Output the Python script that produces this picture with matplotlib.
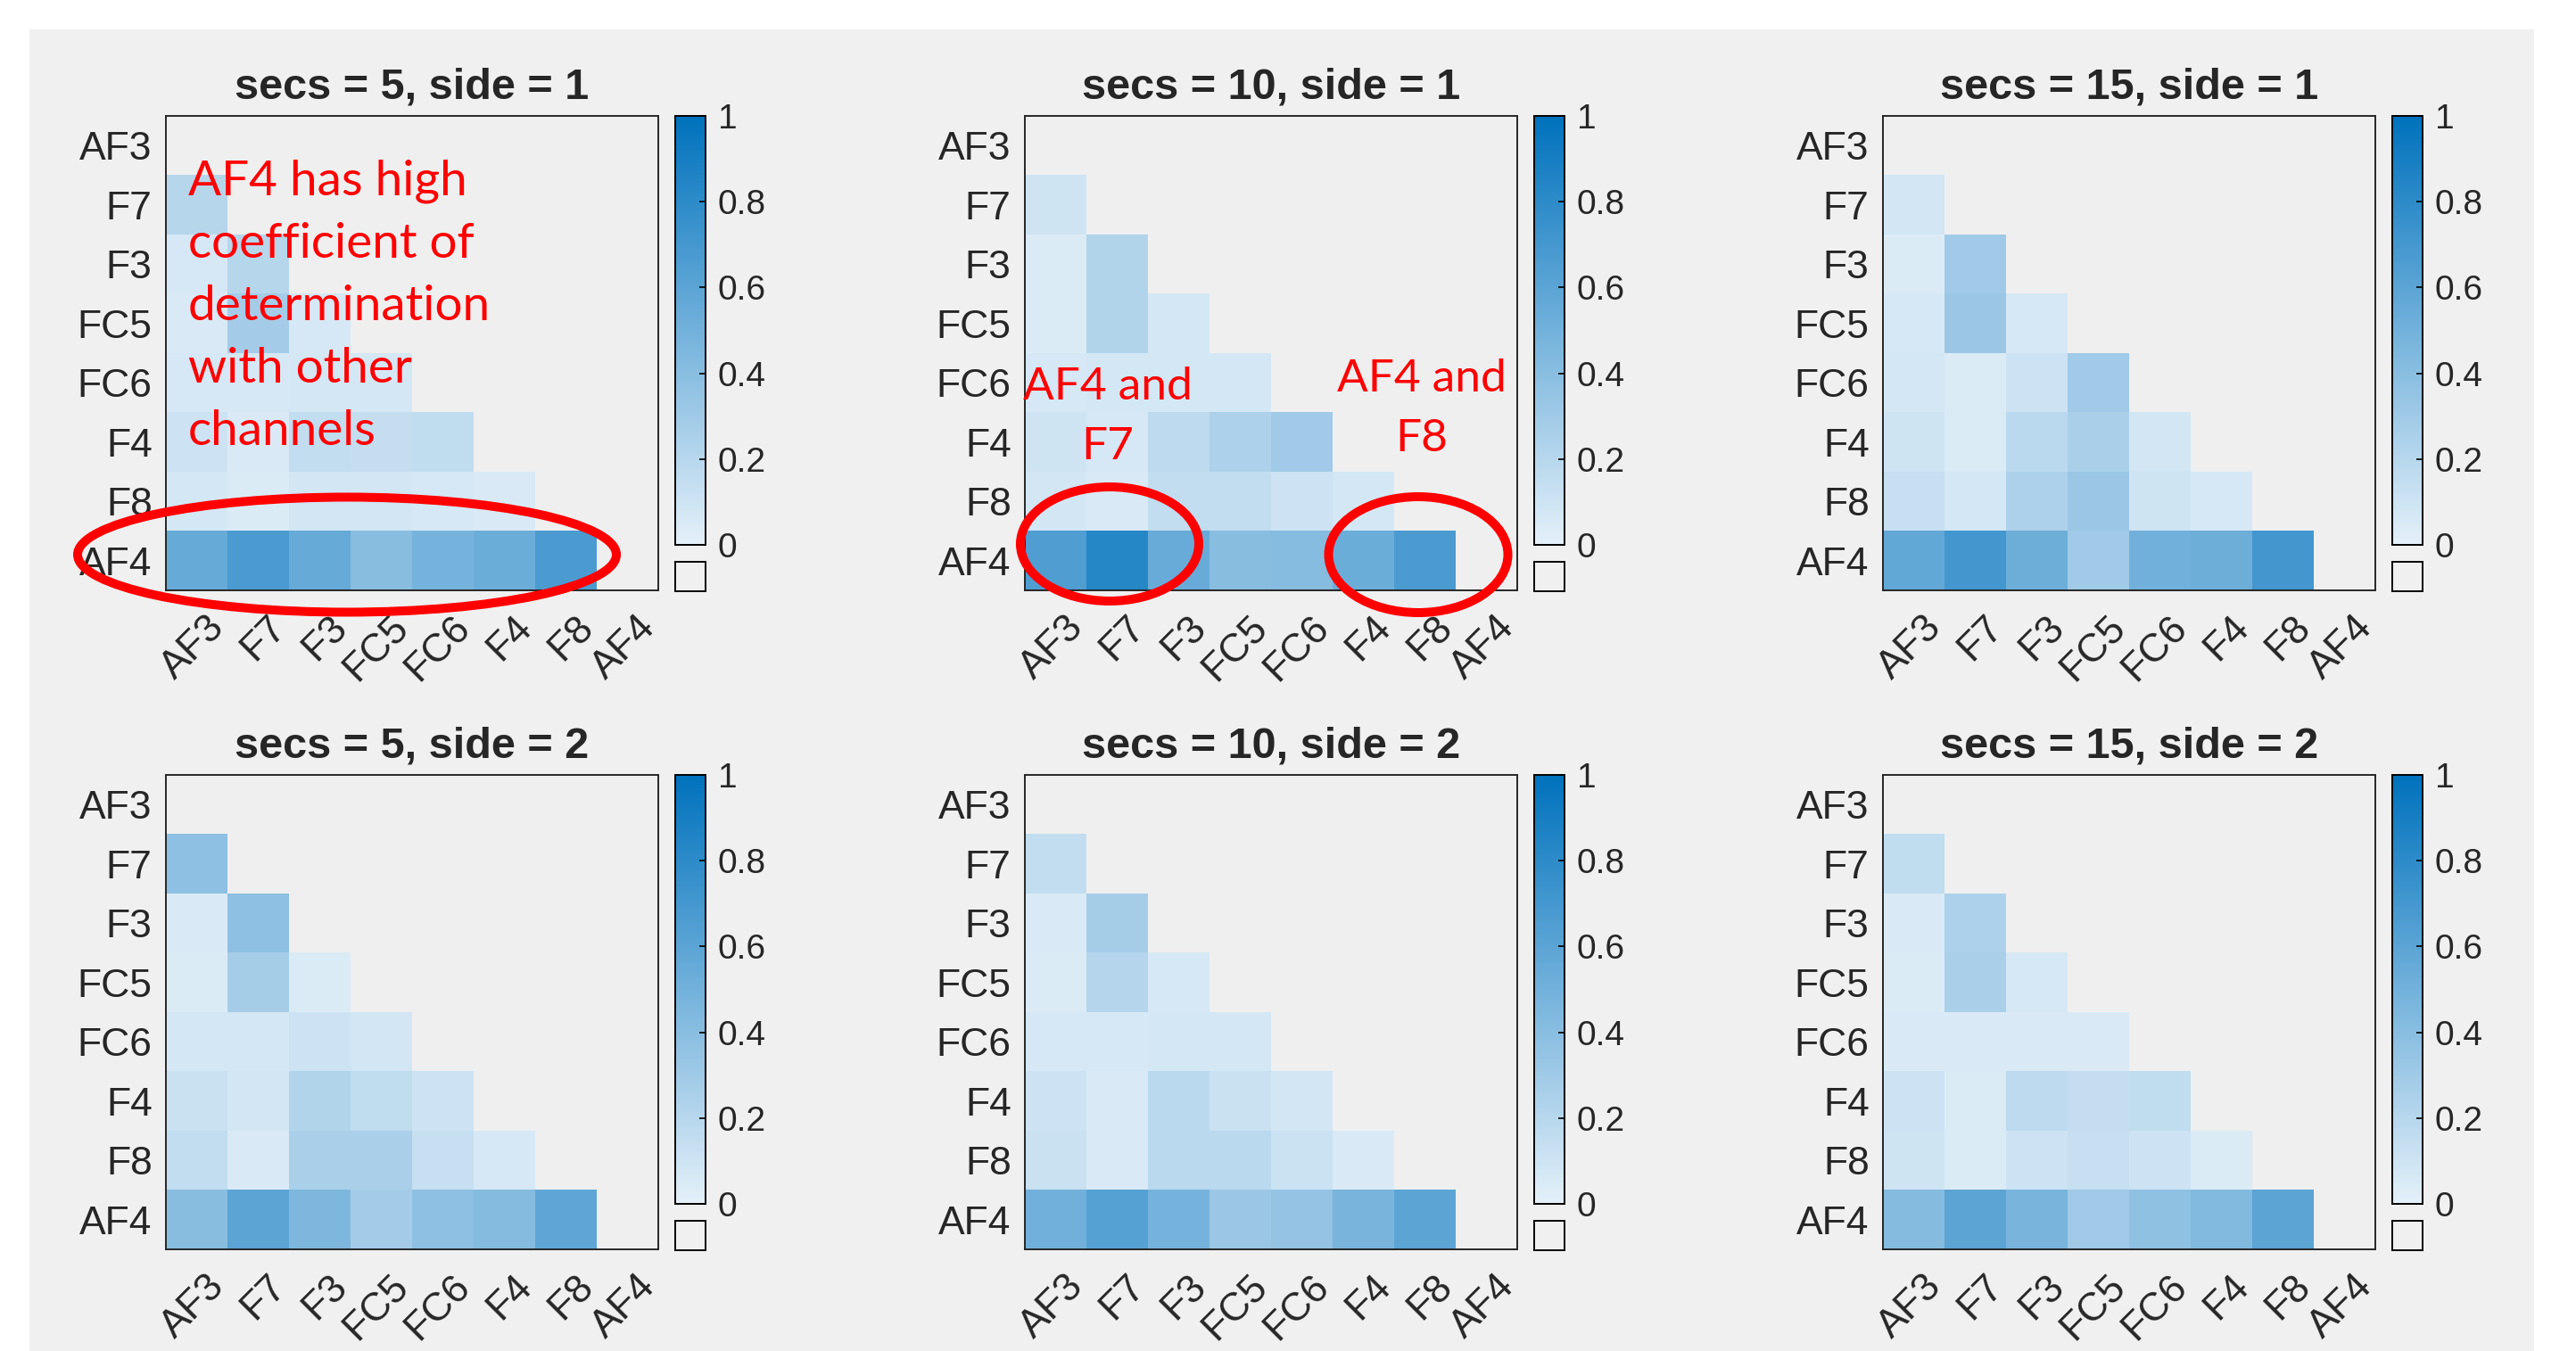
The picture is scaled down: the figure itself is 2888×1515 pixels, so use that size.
import numpy as np
import matplotlib
matplotlib.use('Agg')
import matplotlib.pyplot as plt
from matplotlib.colors import LinearSegmentedColormap
from matplotlib.patches import Ellipse, Rectangle
from matplotlib.transforms import ScaledTranslation

plt.rcParams['font.family'] = ['Liberation Sans', 'DejaVu Sans']

channels = ['AF3', 'F7', 'F3', 'FC5', 'FC6', 'F4', 'F8', 'AF4']
secs_list = [5, 10, 15]
sides = [1, 2]

# lower triangle, rows F7..AF4 (row i holds columns 0..i-1)
r2_5_1 = [[0.20],
          [0.06, 0.20],
          [0.05, 0.28, 0.06],
          [0.06, 0.06, 0.07, 0.07],
          [0.10, 0.05, 0.15, 0.14, 0.16],
          [0.07, 0.04, 0.08, 0.08, 0.06, 0.05],
          [0.55, 0.67, 0.55, 0.40, 0.48, 0.53, 0.67]]
r2_10_1 = [[0.09],
           [0.04, 0.22],
           [0.04, 0.22, 0.07],
           [0.06, 0.07, 0.07, 0.07],
           [0.09, 0.06, 0.17, 0.24, 0.30],
           [0.08, 0.05, 0.15, 0.15, 0.10, 0.07],
           [0.65, 0.83, 0.54, 0.40, 0.41, 0.53, 0.67]]
r2_15_1 = [[0.08],
           [0.04, 0.30],
           [0.06, 0.32, 0.06],
           [0.07, 0.04, 0.10, 0.30],
           [0.09, 0.04, 0.18, 0.25, 0.08],
           [0.13, 0.07, 0.24, 0.32, 0.09, 0.06],
           [0.57, 0.70, 0.52, 0.30, 0.50, 0.52, 0.70]]
r2_5_2 = [[0.38],
          [0.05, 0.38],
          [0.04, 0.27, 0.04],
          [0.07, 0.07, 0.10, 0.08],
          [0.12, 0.08, 0.22, 0.16, 0.10],
          [0.15, 0.05, 0.25, 0.25, 0.13, 0.06],
          [0.40, 0.60, 0.45, 0.28, 0.38, 0.42, 0.58]]
r2_10_2 = [[0.15],
           [0.05, 0.27],
           [0.04, 0.21, 0.06],
           [0.06, 0.06, 0.07, 0.07],
           [0.10, 0.05, 0.18, 0.12, 0.08],
           [0.12, 0.05, 0.18, 0.18, 0.11, 0.05],
           [0.50, 0.62, 0.48, 0.32, 0.35, 0.47, 0.60]]
r2_15_2 = [[0.16],
           [0.05, 0.24],
           [0.04, 0.25, 0.06],
           [0.05, 0.05, 0.05, 0.05],
           [0.10, 0.04, 0.17, 0.14, 0.16],
           [0.09, 0.04, 0.10, 0.13, 0.10, 0.04],
           [0.42, 0.60, 0.47, 0.30, 0.37, 0.43, 0.60]]

panels = {(5, 1): r2_5_1, (10, 1): r2_10_1, (15, 1): r2_15_1,
          (5, 2): r2_5_2, (10, 2): r2_10_2, (15, 2): r2_15_2}

W, H = 2888, 1515
fig = plt.figure(figsize=(W / 100, H / 100), dpi=100, facecolor='white')
fig.patches.append(Rectangle((33 / W, 0), (2841 - 33) / W, 1 - 33 / H,
                             transform=fig.transFigure, facecolor='#f0f0f0',
                             edgecolor='none', zorder=-10))

cmap = LinearSegmentedColormap.from_list('mblue', [(0.894, 0.941, 0.976),
                                                   (0.0, 0.447, 0.741)])
cmap.set_bad((0.94, 0.94, 0.94))
txt = (0.15, 0.15, 0.15)

col_x = [186, 1149, 2111]
row_top = [130, 869]
ax_w, ax_h = 552, 532


def px(x, y, w, h):
    return [x / W, 1 - (y + h) / H, w / W, h / H]


for r, side in enumerate(sides):
    for c, secs in enumerate(secs_list):
        tri = panels[(secs, side)]
        mat = np.full((8, 8), np.nan)
        for i, row in enumerate(tri):
            mat[i + 1, :len(row)] = row

        x0, y0 = col_x[c], row_top[r]
        ax = fig.add_axes(px(x0, y0, ax_w, ax_h))
        ax.set_facecolor((0.94, 0.94, 0.94))
        im = ax.imshow(np.ma.masked_invalid(mat), cmap=cmap, vmin=0, vmax=1,
                       aspect='auto', interpolation='nearest')
        ax.set_xticks(range(8))
        ax.set_yticks(range(8))
        ax.set_yticklabels(channels, fontsize=32, color=txt)
        ax.set_xticklabels(channels, fontsize=32, color=txt, rotation=45,
                           ha='right', va='top', rotation_mode='anchor')
        ax.tick_params(axis='y', length=0, pad=11)
        ax.tick_params(axis='x', length=0, pad=15)
        shift = ScaledTranslation(0.10, 0, fig.dpi_scale_trans)
        for lab in ax.get_xticklabels():
            lab.set_transform(lab.get_transform() + shift)
        for sp in ax.spines.values():
            sp.set_color(txt)
            sp.set_linewidth(1.4)
        ax.set_title(f'secs = {secs}, side = {side}', fontsize=35,
                     fontweight='bold', color=txt, pad=14)

        cax = fig.add_axes(px(x0 + 571, y0, 34, 481))
        cb = fig.colorbar(im, cax=cax, ticks=[0, 0.2, 0.4, 0.6, 0.8, 1])
        cb.ax.set_yticklabels(['0', '0.2', '0.4', '0.6', '0.8', '1'])
        cb.ax.tick_params(direction='in', length=5, width=1.2, pad=10,
                          labelsize=28, labelcolor=txt, color='black')
        cb.outline.set_linewidth(1.4)
        cb.outline.set_edgecolor('black')

        nax = fig.add_axes(px(x0 + 571, y0 + 500, 34, 33))
        nax.set_facecolor((0.94, 0.94, 0.94))
        nax.set_xticks([])
        nax.set_yticks([])
        for sp in nax.spines.values():
            sp.set_color('black')
            sp.set_linewidth(1.4)

# red annotations
red = (1, 0, 0)
note_font = ['Lato', 'DejaVu Sans']
lines1 = ['AF4 has high', 'coefficient of', 'determination', 'with other', 'channels']
for k, line in enumerate(lines1):
    fig.text(211 / W, 1 - (219 + 70 * k) / H, line, fontsize=39.5, color=red,
             family=note_font, ha='left', va='baseline')
for cx, base, second in [(1242, 448, 'F7'), (1594, 439, 'F8')]:
    for k, line in enumerate(['AF4 and', second]):
        fig.text(cx / W, 1 - (base + 67 * k) / H, line, fontsize=37, color=red,
                 family=note_font, ha='center', va='baseline')

for cx, cy, w, h in [(389, 622, 604, 129), (1244, 610, 200, 128), (1590, 622, 201, 130)]:
    fig.add_artist(Ellipse((cx / W, 1 - cy / H), w / W, h / H,
                           transform=fig.transFigure, fill=False,
                           edgecolor=red, linewidth=7.2, clip_on=False))

fig.savefig('out.png', dpi=100, facecolor=fig.get_facecolor())
